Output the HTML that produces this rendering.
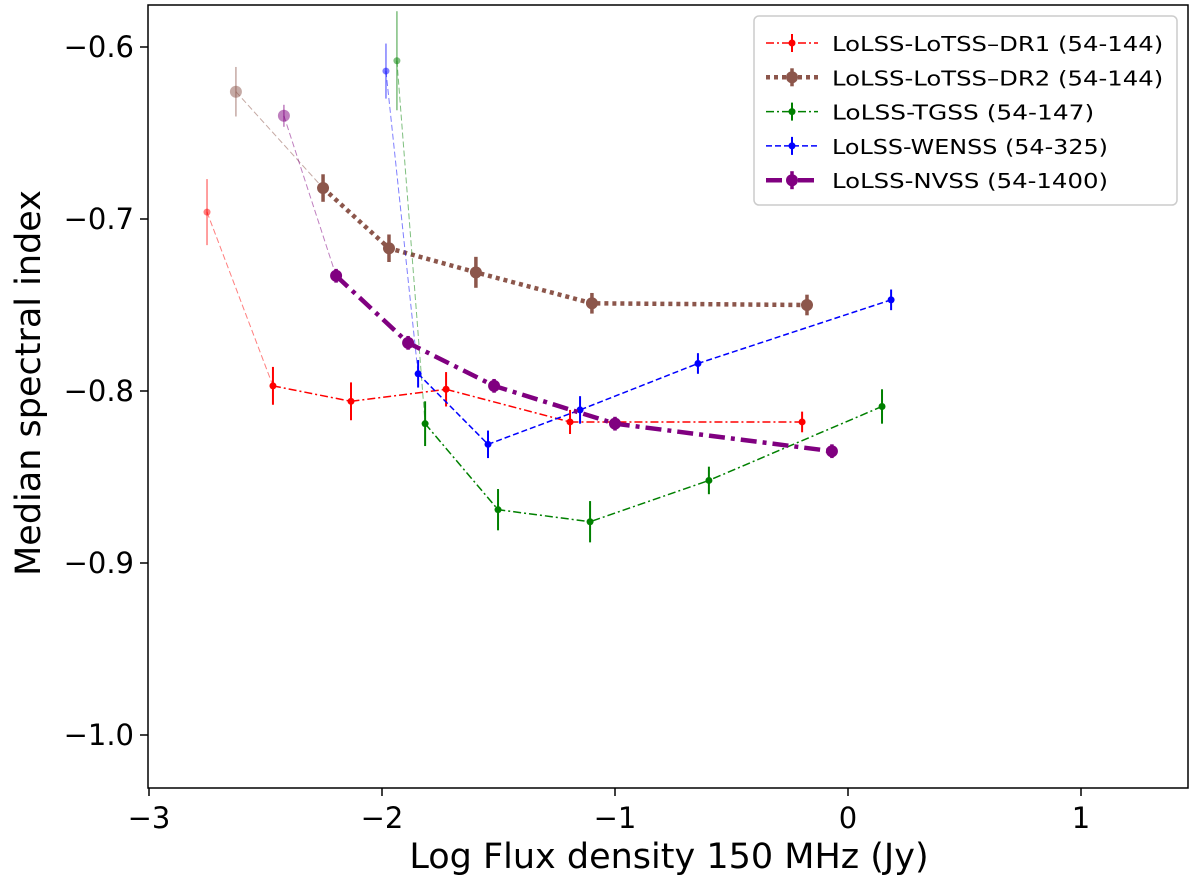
<!DOCTYPE html>
<html><head><meta charset="utf-8"><style>
body{margin:0;background:#fff;}
svg{display:block;font-family:"DejaVu Sans","Liberation Sans",sans-serif;}
</style></head><body>
<svg id="chart" width="1200" height="879">
<rect x="148" y="5" width="1040" height="783" fill="none" stroke="#000" stroke-width="1.5"/>
<g id="marks"></g>
<g id="axes"></g>
<text x="669" y="868" font-size="35" text-anchor="middle">Log Flux density 150 MHz (Jy)</text>
<text transform="translate(40,383) rotate(-90)" font-size="35" text-anchor="middle">Median spectral index</text>
<g id="legend"></g>
</svg>
<script>
const xTicks=[-3,-2,-1,0,1];
const yTicks=[-0.6,-0.7,-0.8,-0.9,-1.0];
const seriesNames=["LoLSS-LoTSS\u2013DR1 (54-144)","LoLSS-LoTSS\u2013DR2 (54-144)","LoLSS-TGSS (54-147)","LoLSS-WENSS (54-325)","LoLSS-NVSS (54-1400)"];
const dr1X=[-2.751,-2.468,-2.133,-1.725,-1.193,-0.197];
const dr1Y=[-0.696,-0.797,-0.806,-0.799,-0.818,-0.818];
const dr1E=[0.012,0.011,0.011,0.010,0.007,0.006];
const dr2X=[-2.627,-2.253,-1.970,-1.597,-1.099,-0.176];
const dr2Y=[-0.626,-0.682,-0.717,-0.731,-0.749,-0.750];
const dr2E=[0.009,0.008,0.008,0.009,0.006,0.006];
const tgssX=[-1.936,-1.815,-1.502,-1.107,-0.597,0.146];
const tgssY=[-0.608,-0.819,-0.869,-0.876,-0.852,-0.809];
const tgssE=[0.018,0.013,0.012,0.012,0.008,0.010];
const wenssX=[-1.983,-1.845,-1.545,-1.150,-0.644,0.185];
const wenssY=[-0.614,-0.790,-0.831,-0.811,-0.784,-0.747];
const wenssE=[0.010,0.008,0.008,0.008,0.006,0.006];
const nvssX=[-2.421,-2.197,-1.888,-1.519,-1.000,-0.069];
const nvssY=[-0.640,-0.733,-0.772,-0.797,-0.819,-0.835];
const nvssE=[0.004,0.004,0.004,0.004,0.004,0.004];

const NS="http://www.w3.org/2000/svg";
const X=v=>149+(v+3)*233;
const Y=v=>47+(-0.6-v)*1720;
function mk(tag,attrs,parent){const e=document.createElementNS(NS,tag);for(const k in attrs)e.setAttribute(k,attrs[k]);parent.appendChild(e);return e;}
const axes=document.getElementById('axes');
xTicks.forEach(t=>{
  const l=mk('line',{x1:X(t),x2:X(t),y1:788,y2:796,stroke:'#000','stroke-width':1.5},axes);
  
  
  const tx=mk('text',{x:X(t),y:828,'font-size':29,'text-anchor':'middle'},axes);
  tx.textContent=(t<0?'\u2212'+Math.abs(t):t);
  
  
});
yTicks.forEach(t=>{
  const l=mk('line',{x1:140,x2:148,y1:Y(t),y2:Y(t),stroke:'#000','stroke-width':1.5},axes);
  
  
  const tx=mk('text',{x:134,y:Y(t)+10,'font-size':29,'text-anchor':'end'},axes);
  tx.textContent='\u2212'+Math.abs(t).toFixed(1);
  
  
});
const styles=[
 {c:'#ff0000',w:1.5,d:'8,3,2,3',r:3.5,ew:2},
 {c:'#8c564b',w:4.5,d:'4,4',r:6,ew:3.5},
 {c:'#008000',w:1.5,d:'8,3,2,3',r:3.5,ew:2},
 {c:'#0000ff',w:1.5,d:'6,3',r:3.5,ew:2},
 {c:'#800080',w:4.5,d:'16,6,4,6',r:6,ew:3.5}];
const data=[[dr1X,dr1Y,dr1E],[dr2X,dr2Y,dr2E],[tgssX,tgssY,tgssE],[wenssX,wenssY,wenssE],[nvssX,nvssY,nvssE]];
const keys=['dr1','dr2','tgss','wenss','nvss'];
const marks=document.getElementById('marks');
data.forEach((s,i)=>{
  const st=styles[i];const [xs,ys,es]=s;
  const g=mk('g',{},marks);
  
  
  const f=mk('line',{x1:X(xs[0]),y1:Y(ys[0]),x2:X(xs[1]),y2:Y(ys[1]),stroke:st.c,'stroke-width':1,'stroke-dasharray':'6,3',opacity:0.5},g);
  
  
  let p='';for(let j=1;j<xs.length;j++)p+=(j==1?'M':'L')+X(xs[j])+','+Y(ys[j]);
  const pl=mk('path',{d:p,fill:'none',stroke:st.c,'stroke-width':st.w,'stroke-dasharray':st.d},g);
  
  
  xs.forEach((x,j)=>{
    const op=j==0?0.5:1;
    const e=mk('line',{x1:X(x),x2:X(x),y1:Y(ys[j]+es[j]*(j==0?1.6:1)),y2:Y(ys[j]-es[j]*(j==0?1.6:1)),stroke:st.c,'stroke-width':j==0?1.5:st.ew,opacity:op},g);
    
    
    const c=mk('circle',{cx:X(x),cy:Y(ys[j]),r:st.r,fill:st.c,opacity:op},g);
    
    
  });
});
const lg=document.getElementById('legend');
const box=mk('rect',{x:754,y:16,width:423,height:189,rx:5,fill:'#fff',stroke:'#ccc','stroke-width':1.5},lg);


seriesNames.forEach((n,i)=>{
  const st=styles[i];const y=43+i*34.3;
  const g=mk('g',{},lg);
  
  
  mk('line',{x1:766,x2:818,y1:y,y2:y,stroke:st.c,'stroke-width':st.w,'stroke-dasharray':st.d},g);
  mk('line',{x1:792,x2:792,y1:y-9,y2:y+9,stroke:st.c,'stroke-width':st.ew},g);
  mk('circle',{cx:792,cy:y,r:st.r,fill:st.c},g);
  const t=mk('text',{x:832,y:y+8,'font-size':20,textLength:337,lengthAdjust:'spacingAndGlyphs'},g);
  t.setAttribute('textLength', n.length*13.8);
  t.textContent=n;
});
</script>
</body></html>
